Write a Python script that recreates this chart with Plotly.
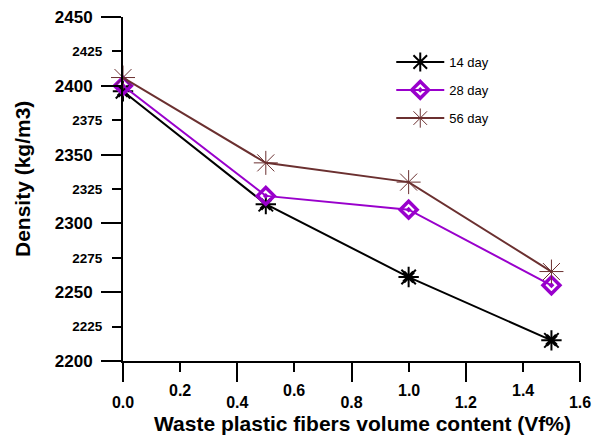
import plotly.graph_objects as go

vf = [0.0, 0.5, 1.0, 1.5]
day14 = [2396, 2314, 2261, 2215]
day28 = [2400, 2320, 2310, 2255]
day56 = [2406, 2344, 2330, 2265]

x_major = [0.0, 0.4, 0.8, 1.2, 1.6]
x_minor = [0.2, 0.6, 1.0, 1.4]
y_major = [2200, 2250, 2300, 2350, 2400, 2450]
y_minor = [2225, 2275, 2325, 2375, 2425]

x_title = "Waste plastic fibers volume content (Vf%)"
y_title = "Density (kg/m3)"

FONT = "Arial, Liberation Sans, sans-serif"
BLACK = "#000000"
PURPLE = "#9900CC"
BROWN = "#6B3030"

fig = go.Figure()

fig.add_trace(go.Scatter(
    x=vf, y=day14, name="14 day", mode="lines+markers",
    line=dict(color=BLACK, width=2),
    marker=dict(symbol="asterisk-open", size=17, color=BLACK, line=dict(color=BLACK, width=2)),
    cliponaxis=False, legend="legend"))
fig.add_trace(go.Scatter(
    x=vf, y=day14, mode="markers", showlegend=False, hoverinfo="skip",
    marker=dict(symbol="x-thin-open", size=10, color=BLACK, line=dict(color=BLACK, width=3.5)),
    cliponaxis=False))
fig.add_trace(go.Scatter(
    x=vf, y=day28, name="28 day", mode="lines+markers",
    line=dict(color=PURPLE, width=2),
    marker=dict(symbol="diamond-open-dot", size=13, color=PURPLE,
                line=dict(color=PURPLE, width=3.5)),
    cliponaxis=False, legend="legend2"))
fig.add_trace(go.Scatter(
    x=vf, y=day56, name="56 day", mode="lines+markers",
    line=dict(color=BROWN, width=2),
    marker=dict(symbol="asterisk-open", size=20, color=BROWN, line=dict(color=BROWN, width=1)),
    cliponaxis=False, legend="legend3"))

axis_common = dict(showgrid=False, zeroline=False,
                   tickcolor=BLACK, tickwidth=2, automargin=False,
                   ticklabeloverflow="allow")

# minor x tick labels sit higher than the major ones (staggered)
minor_x_labels = [
    dict(text=f"<b>{v:.1f}</b>", xref="x", yref="paper", x=v, y=-0.0872,
         xanchor="center", yanchor="middle", showarrow=False,
         font=dict(size=16, family=FONT, color=BLACK))
    for v in x_minor
]

fig.update_layout(
    width=592, height=435,
    margin=dict(l=123, r=12, t=17, b=74),
    paper_bgcolor="white", plot_bgcolor="white",
    font=dict(family=FONT, color=BLACK),
    xaxis=dict(range=[0, 1.6], tickvals=x_major,
               ticktext=[f"{v:.1f}" for v in x_major],
               ticks="outside", ticklen=19,
               minor=dict(tickmode="array", tickvals=x_minor, ticks="outside",
                          ticklen=9, tickwidth=2, tickcolor=BLACK, showgrid=False),
               showline=True, linecolor=BLACK, linewidth=2,
               tickfont=dict(size=16, family=FONT, weight="bold"),
               ticklabelstandoff=7, **axis_common),
    yaxis=dict(range=[2200, 2450], tickvals=y_major,
               ticktext=[str(v) for v in y_major],
               ticks="outside", ticklen=20, showline=True, linecolor=BLACK, linewidth=2,
               tickfont=dict(size=17, family=FONT, weight="bold"),
               ticklabelstandoff=5, **axis_common),
    yaxis2=dict(range=[2200, 2450], overlaying="y", anchor="x", side="left",
                tickvals=y_minor, ticktext=[str(v) for v in y_minor],
                ticks="outside", ticklen=10, showline=False,
                tickfont=dict(size=13.5, family=FONT, weight="bold"),
                ticklabelstandoff=7, **axis_common),
    annotations=minor_x_labels + [
        dict(text=f"<b>{x_title}</b>", xref="paper", yref="paper",
             x=0.523, y=-0.183, xanchor="center", yanchor="middle",
             showarrow=False, font=dict(size=21, family=FONT, color=BLACK)),
        dict(text=f"<b>{y_title}</b>", xref="paper", yref="paper",
             x=-0.221, y=0.529, xanchor="center", yanchor="middle",
             textangle=-90, showarrow=False,
             font=dict(size=21, family=FONT, color=BLACK)),
    ],
)

# invisible trace to activate the minor-label y axis
fig.add_trace(go.Scatter(x=[0], y=[2200], xaxis="x", yaxis="y2", mode="markers",
                         marker=dict(opacity=0), showlegend=False, hoverinfo="skip"))

leg_common = dict(bgcolor="rgba(0,0,0,0)", borderwidth=0, itemwidth=48,
                  font=dict(size=13, family=FONT, color=BLACK),
                  xanchor="left", yanchor="middle", x=0.587)
fig.update_layout(
    legend=dict(y=0.869, **leg_common),
    legend2=dict(y=0.788, **leg_common),
    legend3=dict(y=0.706, **leg_common),
)

fig.write_html(
    "out.html",
    config={"displayModeBar": False},
    post_script="document.body.style.margin='0';document.body.style.overflow='hidden';",
)
